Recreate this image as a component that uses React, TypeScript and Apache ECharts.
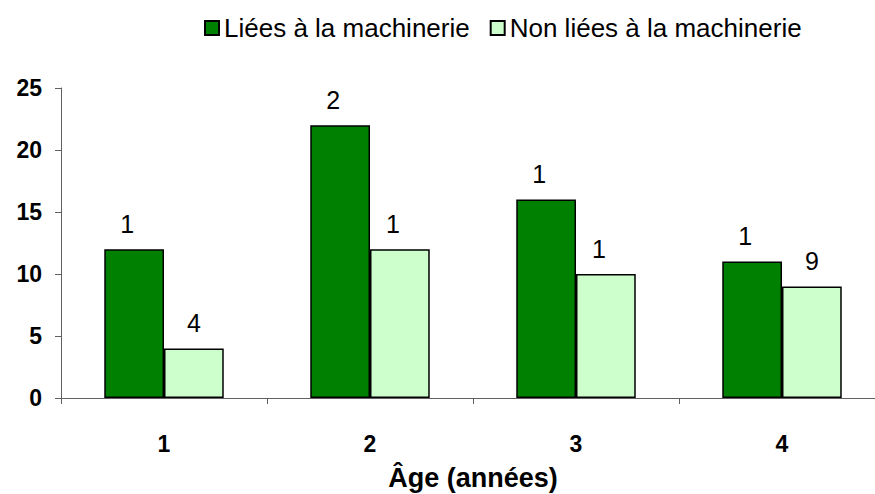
import React, { useEffect, useRef } from "react";
import * as echarts from "echarts";

const categories = ["1", "2", "3", "4"];
const seriesNames = ["Liées à la machinerie", "Non liées à la machinerie"];
const linkedValues = [12, 22, 16, 11];
const notLinkedValues = [4, 12, 10, 9];
const yTicks = { min: 0, max: 25, interval: 5 };
const xTitle = "Âge (années)";

const FONT = "Arial, 'Liberation Sans', sans-serif";
const LABEL_SIZE = 25;

function truncatedLabelData(values: number[]) {
  // the reference shows only the first digit of each value label (clipped)
  return values.map((v) => {
    const s = String(v);
    const shift = s.length > 1 ? -(LABEL_SIZE * 0.556) / 2 : 0;
    return { value: v, label: { offset: [shift, 0] } };
  });
}

export default function App() {
  const ref = useRef<HTMLDivElement>(null);
  useEffect(() => {
    if (!ref.current) return;
    const chart = echarts.init(ref.current, undefined, { renderer: "svg" });
    const labelCfg = {
      show: true,
      position: "top",
      distance: 13,
      color: "#000",
      fontFamily: FONT,
      fontSize: LABEL_SIZE,
      formatter: (p: any) => String(p.value).charAt(0),
    };
    chart.setOption({
      animation: false,
      backgroundColor: "#fff",
      textStyle: { fontFamily: FONT },
      legend: {
        left: 199,
        top: 10,
        icon: "rect",
        itemWidth: 14,
        itemHeight: 14,
        itemGap: 20,
        textStyle: { fontFamily: FONT, fontSize: 26, color: "#000" },
        data: seriesNames,
      },
      grid: {
        left: 61,
        width: 824,
        top: 88,
        bottom: 96,
        containLabel: false,
        outerBoundsMode: "none",
      },
      xAxis: {
        type: "category",
        data: categories,
        name: xTitle,
        nameLocation: "middle",
        nameGap: 66,
        nameTextStyle: { fontFamily: FONT, fontSize: 27, fontWeight: "bold", color: "#000" },
        axisLine: { lineStyle: { color: "#606060", width: 1 } },
        axisTick: { show: true, length: 6, interval: 0, lineStyle: { color: "#606060" } },
        axisLabel: { margin: 34, fontFamily: FONT, fontSize: 23, fontWeight: "bold", color: "#000" },
      },
      yAxis: {
        type: "value",
        min: yTicks.min,
        max: yTicks.max,
        interval: yTicks.interval,
        splitLine: { show: false },
        axisLine: { show: true, lineStyle: { color: "#606060", width: 1 } },
        axisTick: { show: true, length: 6, lineStyle: { color: "#606060" } },
        axisLabel: { margin: 19, fontFamily: FONT, fontSize: 23, fontWeight: "bold", color: "#000" },
      },
      series: [
        {
          name: seriesNames[0],
          type: "bar",
          data: truncatedLabelData(linkedValues),
          barGap: "0%",
          barCategoryGap: "42%",
          itemStyle: { color: "#008000", borderColor: "#000", borderWidth: 1.5 },
          label: labelCfg,
        },
        {
          name: seriesNames[1],
          type: "bar",
          data: truncatedLabelData(notLinkedValues),
          barGap: "0%",
          barCategoryGap: "42%",
          itemStyle: { color: "#CCFFCC", borderColor: "#000", borderWidth: 1.5 },
          label: labelCfg,
        },
      ],
    });
    return () => chart.dispose();
  }, []);
  return (
    <div
      ref={ref}
      style={{ position: "absolute", left: 0, top: 0, width: 875, height: 494 }}
    />
  );
}
